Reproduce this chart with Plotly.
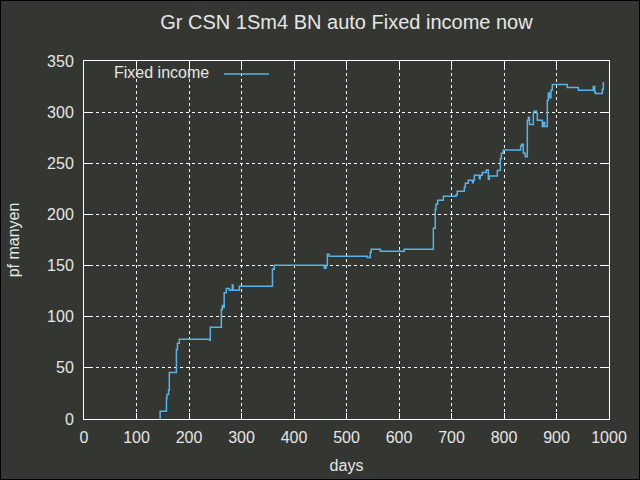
import plotly.graph_objects as go

# step points (day, value); each point is where the step happens
days = [145, 145, 157, 158, 161, 162.5, 176, 178, 181.5, 239.3, 240.6, 261.6, 263.5, 266, 267,
        271, 276.8, 282.5, 284, 295.9, 359, 362.5, 457.8, 461, 463.5, 467, 539.7, 545.4, 547,
        564.5, 610, 665.4, 669, 670.5, 673.6, 684.4, 708.6, 711, 724.4, 726.3, 732, 740, 741.5,
        743.5, 753, 754.8, 758.7, 766.3, 770.2, 772, 787.3, 793, 795, 798.7, 831.7, 833.6,
        836.8, 840.6, 844.4, 846.5, 848.5, 855.9, 857, 862, 863.5, 873, 875, 877.5, 882.5,
        884.4, 886.3, 889.5, 892, 920.6, 941.6, 970, 972.7, 974, 987.3, 989.2]
values = [0, 7.5, 20, 24, 28, 45.5, 68, 74, 78, 77, 89.6, 107, 111, 109, 123.5,
          127.7, 125.8, 131, 125.8, 129.7, 146.3, 150.2, 147.3, 150, 161, 159, 158, 163, 165.9,
          163.9, 165.9, 186.4, 205, 210, 213.8, 217.7, 219, 222.6, 226.5, 230.4, 233.3, 231, 233.3,
          238.2, 235, 238.2, 241, 243.4, 234.3, 237.6, 243, 254.8, 259.7, 263, 266.9, 268.5,
          259.7, 256.5, 292, 295, 288, 299.5, 300.8, 298.8, 292, 286, 290, 286, 311.5,
          318.7, 314, 321.6, 327.1, 324.2, 321.3, 325, 320, 318.3, 322.3, 329.5]

x_ticks = [0, 100, 200, 300, 400, 500, 600, 700, 800, 900, 1000]
y_ticks = [0, 50, 100, 150, 200, 250, 300, 350]

bg = "#343631"
fg = "#e6e6e6"
blue = "#56b4e9"
fnt = "Liberation Sans, Arial, sans-serif"

# plot area in pixels
L, R, T, B = 84, 31, 61, 61
PW, PH = 640 - L - R, 480 - T - B


def px(x):
    return (x - L) / PW


def py(y):
    return (480 - B - y) / PH


fig = go.Figure()
fig.add_trace(go.Scatter(x=days, y=values, mode="lines", line=dict(color=blue, width=1.5, shape="hv"),
                         name="Fixed income", showlegend=False))

axis_common = dict(showline=True, linecolor="white", linewidth=1, mirror="ticks",
                   ticks="inside", ticklen=6, tickcolor="white", tickwidth=1,
                   showgrid=True, gridcolor="white", gridwidth=1, griddash="3px,3px",
                   zeroline=False, tickfont=dict(family=fnt, size=16, color=fg))

fig.update_xaxes(range=[0, 1000], tickvals=x_ticks, ticklabelstandoff=4, **axis_common,
                 title=dict(text="days", font=dict(family=fnt, size=16, color=fg), standoff=14))
fig.update_yaxes(range=[0, 350], tickvals=y_ticks, ticklabelstandoff=6, **axis_common,
                 title=dict(text="pf manyen", font=dict(family=fnt, size=16, color=fg), standoff=23))

# gnuplot-style key: text on the left, line sample on the right
fig.add_annotation(text="Fixed income", xref="paper", yref="paper", x=px(211), y=py(73),
                   xanchor="right", yanchor="middle", showarrow=False,
                   font=dict(family=fnt, size=16, color=fg))
fig.add_shape(type="line", xref="paper", yref="paper", x0=px(224), x1=px(269), y0=py(74), y1=py(74),
              line=dict(color=blue, width=1.5))

# thin dark frame round the picture
fig.add_shape(type="rect", xref="paper", yref="paper", x0=px(0.5), x1=px(639.5), y0=py(479.5), y1=py(0.5),
              line=dict(color="black", width=1), layer="below")

fig.update_layout(
    width=640, height=480,
    margin=dict(l=L, r=R, t=T, b=B, autoexpand=False),
    paper_bgcolor=bg, plot_bgcolor=bg,
    title=dict(text="Gr CSN 1Sm4 BN auto Fixed income now", x=0.5, xref="paper", y=1 - 22 / 480,
               yanchor="middle", font=dict(family=fnt, size=20, color=fg)),
    showlegend=False,
)

fig.write_html("out.html", config={"displayModeBar": False},
               post_script="document.body.style.margin='0';")
